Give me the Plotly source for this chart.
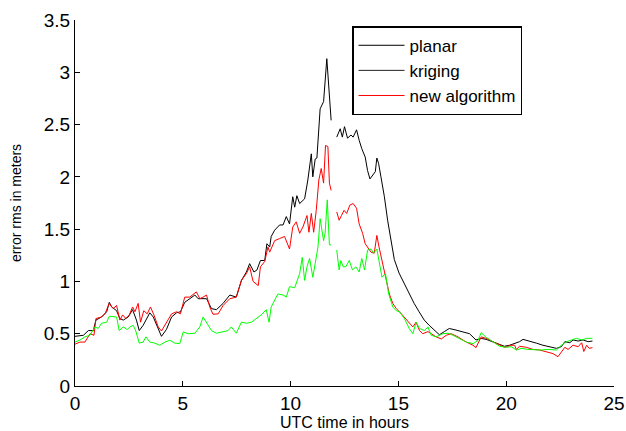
import plotly.graph_objects as go

# ---- data ----
hours_planar = [0, 0.39, 0.62, 0.85, 0.97, 1.23, 1.47, 1.59, 1.7, 1.93,
                2.08, 2.24, 2.47, 2.67, 2.85, 2.98, 3.16, 3.32, 3.47, 3.63,
                3.81, 4.01, 4.24, 4.48, 4.71, 4.89, 5.09, 5.32, 5.56, 5.71,
                5.94, 6.1, 6.33, 6.56, 6.87, 7.18, 7.48, 7.72, 7.95, 8.1,
                8.3, 8.44, 8.6, 8.8, 8.9, 9.03, 9.1, 9.26, 9.49, 9.65,
                9.8, 9.95, 10.1, 10.19, 10.29, 10.42, 10.65, 10.8, 10.96, 11.03,
                11.14, 11.22, 11.37, 11.53, 11.68, 11.8, 11.88, 12.0, 12.14, 12.3,
                12.4, 12.5, 12.64, 12.8, 12.9, 13.06, 13.18, 13.3, 13.46, 13.57,
                13.68, 13.8, 13.93, 14.0, 14.08, 14.19, 14.35, 14.5, 14.66, 14.81,
                15.03, 15.26, 15.5, 15.73, 15.96, 16.2, 16.43, 16.66, 16.9, 17.13,
                17.36, 17.67, 17.98, 18.3, 18.6, 18.84, 19.07, 19.38, 19.69, 19.92,
                20.16, 20.47, 20.62, 20.78, 21.09, 21.4, 21.7, 22.0, 22.33, 22.56,
                22.72, 22.95, 23.1, 23.34, 23.57, 23.8, 24.0]
err_planar = [0.475, 0.485, 0.53, 0.53, 0.63, 0.66, 0.71, 0.80, 0.756, 0.72,
              0.645, 0.63, 0.66, 0.73, 0.63, 0.53, 0.58, 0.645, 0.70, 0.66,
              0.565, 0.475, 0.54, 0.66, 0.70, 0.71, 0.80, 0.835, 0.87, 0.835,
              0.835, 0.835, 0.74, 0.73, 0.79, 0.87, 0.85, 1.01, 1.09, 1.17,
              1.09, 1.11, 1.20, 1.20, 1.36, 1.33, 1.43, 1.49, 1.54, 1.54,
              1.62, 1.55, 1.81, 1.71, 1.82, 1.745, 1.79, 1.97, 2.22, 2.00,
              2.17, 2.18, 2.65, 2.72, 3.13, 2.78, 2.54, None, 2.38, 2.46,
              2.38, 2.48, 2.37, 2.40, 2.38, 2.45, 2.35, 2.27, 2.19, 2.06,
              1.98, 2.02, 2.05, 2.18, 2.13, 2.00, 1.81, 1.585, 1.39, 1.21,
              1.08, 0.98, 0.886, 0.79, 0.71, 0.63, 0.58, 0.535, 0.49, 0.52,
              0.55, 0.535, 0.52, 0.50, 0.44, 0.455, 0.446, 0.424, 0.40, 0.38,
              0.39, 0.41, 0.424, 0.446, 0.43, 0.41, 0.39, 0.376, 0.36, 0.376,
              0.424, 0.414, 0.44, 0.43, 0.44, 0.424, 0.43]

hours_red = [0, 0.23, 0.46, 0.7, 0.88, 0.97, 1.23, 1.39, 1.59, 1.77,
             1.93, 2.08, 2.21, 2.36, 2.52, 2.67, 2.78, 2.93, 3.04, 3.19,
             3.35, 3.5, 3.66, 3.86, 4.01, 4.24, 4.48, 4.71, 4.89, 5.09,
             5.32, 5.63, 5.79, 5.94, 6.1, 6.25, 6.4, 6.64, 6.87, 7.18,
             7.48, 7.72, 7.95, 8.1, 8.26, 8.5, 8.6, 8.8, 8.95, 9.03,
             9.26, 9.49, 9.72, 9.95, 10.1, 10.26, 10.42, 10.57, 10.76, 10.85,
             10.96, 11.07, 11.19, 11.31, 11.42, 11.53, 11.62, 11.73, 11.8, 11.88,
             12.0, 12.14, 12.25, 12.36, 12.48, 12.6, 12.75, 12.9, 13.06, 13.18,
             13.34, 13.46, 13.57, 13.73, 13.88, 14.0, 14.1, 14.27, 14.43, 14.58,
             14.74, 14.9, 15.05, 15.28, 15.5, 15.67, 15.82, 15.98, 16.13, 16.37,
             16.52, 16.75, 16.99, 17.22, 17.45, 17.76, 18.15, 18.46, 18.6, 18.84,
             19.07, 19.38, 19.69, 19.92, 20.23, 20.39, 20.47, 20.62, 20.93, 21.24,
             21.55, 21.86, 22.17, 22.4, 22.56, 22.72, 22.87, 23.1, 23.34, 23.5,
             23.6, 23.73, 23.85, 24.0]
err_red = [0.40, 0.42, 0.42, 0.50, 0.485, 0.645, 0.66, 0.69, 0.79, 0.74,
           0.77, 0.63, 0.68, 0.645, 0.68, 0.756, 0.71, 0.79, 0.61, 0.72,
           0.69, 0.756, 0.68, 0.565, 0.526, 0.60, 0.69, 0.71, 0.69, 0.85,
           0.85, 0.90, 0.835, 0.85, 0.87, 0.756, 0.686, 0.69, 0.77, 0.835,
           0.85, 1.01, 1.075, 1.14, 1.00, 0.96, 1.14, 1.19, 1.33, 1.28,
           1.39, 1.41, 1.43, 1.31, 1.52, 1.57, 1.46, 1.52, 1.63, 1.47,
           1.65, 1.47, 1.68, 1.97, 2.08, 1.94, 2.30, 2.29, 1.94, 1.87,
           None, 1.665, 1.585, 1.63, 1.68, 1.65, 1.73, 1.745, 1.70, 1.55,
           1.46, 1.36, 1.33, 1.28, 1.27, 1.44, 1.33, 1.17, 1.01, 0.88,
           0.79, 0.74, 0.71, 0.66, 0.61, 0.565, 0.61, 0.53, 0.50, 0.52,
           0.50, 0.47, 0.45, 0.485, 0.50, 0.47, 0.42, 0.39, 0.367, 0.47,
           0.456, 0.424, 0.39, 0.37, 0.39, 0.39, 0.35, 0.38, 0.37, 0.35,
           0.344, 0.33, 0.31, 0.28, 0.33, 0.37, 0.35, 0.39, 0.376, 0.414,
           0.33, 0.39, 0.36, 0.367]

hours_green = [0, 0.23, 0.46, 0.69, 0.93, 1.08, 1.23, 1.47, 1.59, 1.77,
               1.93, 2.05, 2.24, 2.42, 2.55, 2.7, 2.82, 2.98, 3.16, 3.29,
               3.47, 3.7, 3.93, 4.17, 4.4, 4.63, 4.86, 5.02, 5.25, 5.56,
               5.79, 5.94, 6.1, 6.33, 6.56, 6.87, 7.1, 7.25, 7.48, 7.72,
               7.95, 8.18, 8.41, 8.64, 8.87, 9.0, 9.1, 9.26, 9.41, 9.65,
               9.8, 9.95, 10.19, 10.42, 10.54, 10.65, 10.76, 10.88, 11.03, 11.14,
               11.27, 11.37, 11.53, 11.6, 11.7, 11.8, 11.88, 12.0, 12.14, 12.25,
               12.33, 12.44, 12.56, 12.72, 12.87, 13.03, 13.18, 13.3, 13.43, 13.57,
               13.73, 13.85, 14.0, 14.1, 14.24, 14.4, 14.55, 14.74, 14.9, 15.05,
               15.28, 15.5, 15.67, 15.82, 15.98, 16.21, 16.37, 16.52, 16.75, 17.06,
               17.3, 17.53, 17.84, 18.15, 18.46, 18.7, 18.84, 19.07, 19.38, 19.69,
               20.0, 20.23, 20.47, 20.7, 21.0, 21.32, 21.63, 21.94, 22.33, 22.56,
               22.8, 23.03, 23.26, 23.5, 23.73, 24.0]
err_green = [0.42, 0.44, 0.47, 0.485, 0.565, 0.55, 0.60, 0.61, 0.667, 0.66,
             0.66, 0.53, 0.565, 0.54, 0.565, 0.58, 0.526, 0.41, 0.42, 0.47,
             0.42, 0.41, 0.39, 0.42, 0.437, 0.41, 0.405, 0.517, 0.50, 0.505,
             0.565, 0.66, 0.61, 0.53, 0.505, 0.517, 0.53, 0.565, 0.505, 0.61,
             0.60, 0.61, 0.645, 0.68, 0.73, 0.61, 0.756, 0.82, 0.88, 0.87,
             0.85, 0.95, 0.94, 1.075, 1.23, 1.01, 1.14, 1.22, 1.04, 1.17,
             1.33, 1.60, 1.39, 1.46, 1.78, 1.35, 1.35, None, 1.30, 1.11,
             1.20, 1.14, 1.14, 1.20, 1.11, 1.14, 1.09, 1.22, 1.11, 1.30,
             1.31, 1.27, 1.31, 1.20, 1.04, 1.075, 0.88, 0.756, 0.72, 0.71,
             0.645, 0.55, 0.50, 0.61, 0.55, 0.53, 0.565, 0.485, 0.47, 0.50,
             0.505, 0.485, 0.45, 0.42, 0.405, 0.437, 0.51, 0.465, 0.424, 0.38,
             0.37, 0.376, 0.344, 0.36, 0.35, 0.344, 0.344, 0.35, 0.344, 0.39,
             0.424, 0.44, 0.456, 0.44, 0.456, 0.456]

legend_names = ["planar", "kriging", "new algorithm"]
legend_colors = ["#000000", "#222222", "#ff0000"]

x_ticks = [0, 5, 10, 15, 20, 25]
y_ticks = [0, 0.5, 1, 1.5, 2, 2.5, 3, 3.5]
y_tick_text = ["0", "0.5", "1", "1.5", "2", "2.5", "3", "3.5"]

FONT = "Liberation Sans, Arial, sans-serif"

fig = go.Figure()
fig.add_trace(go.Scatter(x=hours_planar, y=err_planar, mode="lines",
                         line=dict(color="#000000", width=1), showlegend=False))
fig.add_trace(go.Scatter(x=hours_red, y=err_red, mode="lines",
                         line=dict(color="#ff0000", width=1), showlegend=False))
fig.add_trace(go.Scatter(x=hours_green, y=err_green, mode="lines",
                         line=dict(color="#00ff00", width=1), showlegend=False))
for name, col in zip(legend_names, legend_colors):
    fig.add_trace(go.Scatter(x=[None], y=[None], mode="lines", name=name,
                             line=dict(color=col, width=1)))

fig.update_layout(
    width=626, height=431,
    margin=dict(l=75, r=12, t=20, b=45),
    paper_bgcolor="white", plot_bgcolor="white",
    font=dict(family=FONT, color="black", size=18),
    legend=dict(x=0.514, y=0.983, xanchor="left", yanchor="top",
                bordercolor="black", borderwidth=1.5, bgcolor="white",
                font=dict(size=17, family=FONT), itemwidth=46,
                tracegroupgap=0),
    xaxis=dict(range=[0, 25], tickvals=x_ticks, ticks="inside", ticklen=5,
               tickcolor="black", showline=True, linecolor="black", linewidth=1,
               showgrid=False, zeroline=False, mirror=False, automargin=False,
               tickfont=dict(size=19),
               title=dict(text="UTC time in hours", font=dict(size=16), standoff=13)),
    yaxis=dict(range=[0, 3.5], tickvals=y_ticks, ticktext=y_tick_text,
               ticks="inside", ticklen=5,
               tickcolor="black", showline=True, linecolor="black", linewidth=1,
               showgrid=False, zeroline=False, mirror=False, automargin=False,
               tickfont=dict(size=19),
               title=dict(text="error rms in meters", font=dict(size=14), standoff=18)),
)

fig.write_html("out.html")
